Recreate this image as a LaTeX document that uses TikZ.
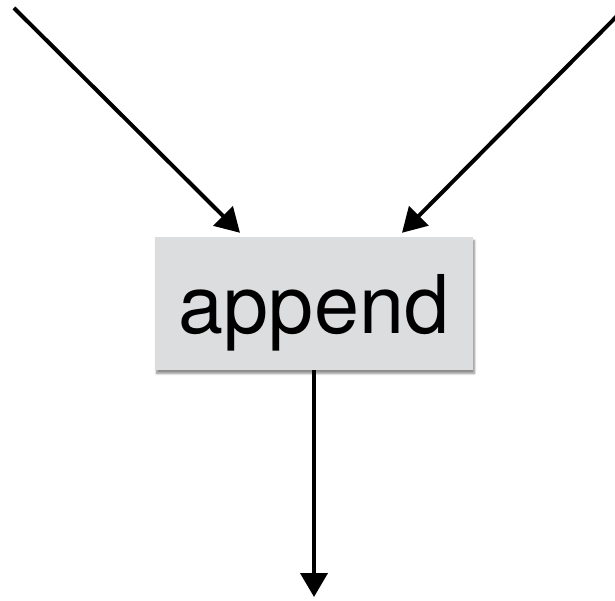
\documentclass[tikz,border=0pt]{standalone}
\usepackage{fontspec}
\setmainfont{TeX Gyre Heros}
\usetikzlibrary{arrows.meta,shadows.blur}
\definecolor{boxgray}{RGB}{220,221,223}
\tikzset{ opbox/.style={fill=boxgray,inner sep=0pt,minimum width=318pt,text height=96pt,text depth=37pt,
  font=\fontsize{81}{81}\selectfont,
  blur shadow={shadow xshift=1.5pt,shadow yshift=-3.5pt,shadow blur steps=6,shadow opacity=45}},
  flow/.style={line width=4pt,-{Triangle[length=24pt,width=27pt]}} }

\begin{document}
\begin{tikzpicture}[x=1pt,y=-1pt]
  \useasboundingbox (0,0) rectangle (615,601);
  \coordinate (in1) at (14,8);
  \coordinate (in2) at (622,11);
  \coordinate (out) at (314,597);
  \node[opbox] (append) at (314,303.5) {append};
  \draw[flow] (in1) -- ([xshift=-74pt,yshift=4pt]append.north);
  \draw[flow] (in2) -- ([xshift=88pt,yshift=4pt]append.north);
  \draw[flow] (append.south) -- (out);
\end{tikzpicture}
\end{document}
